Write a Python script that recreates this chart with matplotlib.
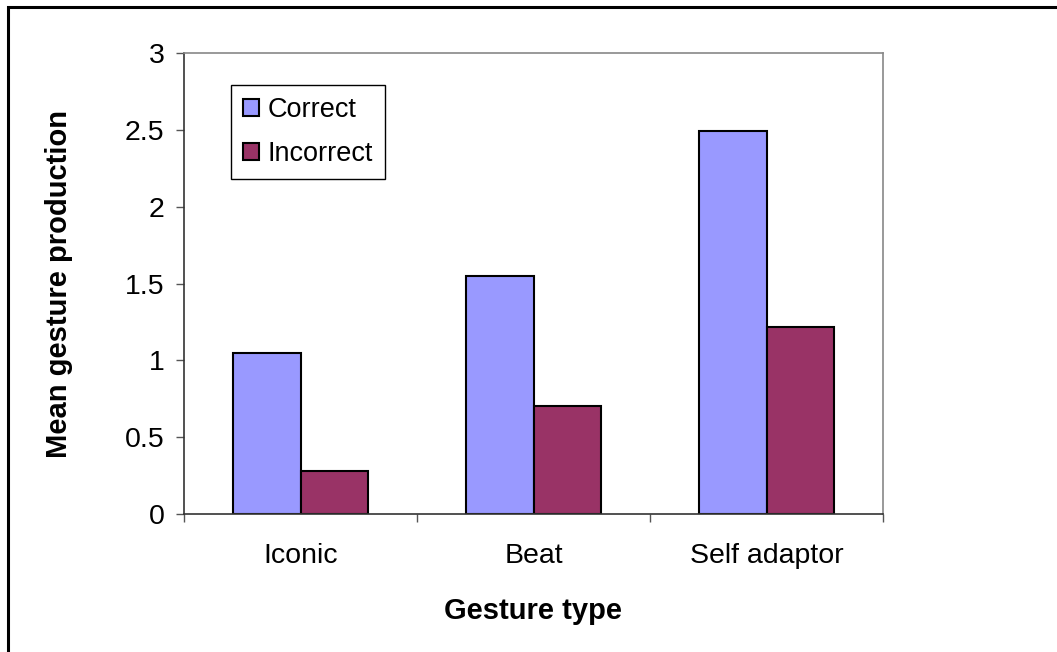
import numpy as np
import matplotlib
matplotlib.use("Agg")
import matplotlib.pyplot as plt
from matplotlib.patches import Rectangle

plt.rcParams['font.family'] = ['Liberation Sans', 'DejaVu Sans']

# data
categories = ['Iconic', 'Beat', 'Self adaptor']
correct = [1.05, 1.55, 2.49]
incorrect = [0.28, 0.70, 1.22]

fig = plt.figure(figsize=(10.57, 6.52), dpi=100)
ax = fig.add_axes([184/1057, 1-514/652, 699/1057, 461/652])

x = np.arange(len(categories))
w = 0.29
ax.bar(x - w/2, correct, w, color='#9999FF', edgecolor='black', linewidth=1.5, label='Correct')
ax.bar(x + w/2, incorrect, w, color='#993366', edgecolor='black', linewidth=1.5, label='Incorrect')

ax.set_xlim(-0.5, 2.5)
ax.set_ylim(0, 3)
ax.set_yticks([0, 0.5, 1, 1.5, 2, 2.5, 3])
ax.set_yticklabels(['0', '0.5', '1', '1.5', '2', '2.5', '3'])
ax.set_xticks(x)
ax.set_xticklabels(categories)
ax.set_xticks([-0.5, 0.5, 1.5, 2.5], minor=True)
ax.tick_params(axis='x', which='major', length=0, pad=21, labelsize=20.5)
ax.tick_params(axis='x', which='minor', length=6, width=1, color='#555555')
ax.tick_params(axis='y', length=6, width=1, color='#555555', pad=8, labelsize=20.5)

for s in ['left', 'bottom']:
    ax.spines[s].set_color('#333333')
    ax.spines[s].set_linewidth(1.2)
for s in ['top', 'right']:
    ax.spines[s].set_color('#888888')
    ax.spines[s].set_linewidth(1.2)

ax.set_xlabel('Gesture type', fontsize=21, fontweight='bold', labelpad=20)
ax.set_ylabel('Mean gesture production', fontsize=21, fontweight='bold', labelpad=37)

leg = ax.legend(loc='upper left', bbox_to_anchor=((231-184)/699, (514-85)/461), borderaxespad=0,
                fontsize=19.5, fancybox=False, framealpha=1, edgecolor='black',
                handlelength=0.6, handleheight=0.6, handletextpad=0.3, labelspacing=0.65,
                borderpad=0.45)
leg.get_frame().set_linewidth(1)

# outer frame of the chart area
fig.patches.append(Rectangle((8/1057, -0.1), 1.2, 1 - 7/652 + 0.1, transform=fig.transFigure,
                             fill=False, edgecolor='black', linewidth=2.2))

fig.savefig('out.png', dpi=100)
